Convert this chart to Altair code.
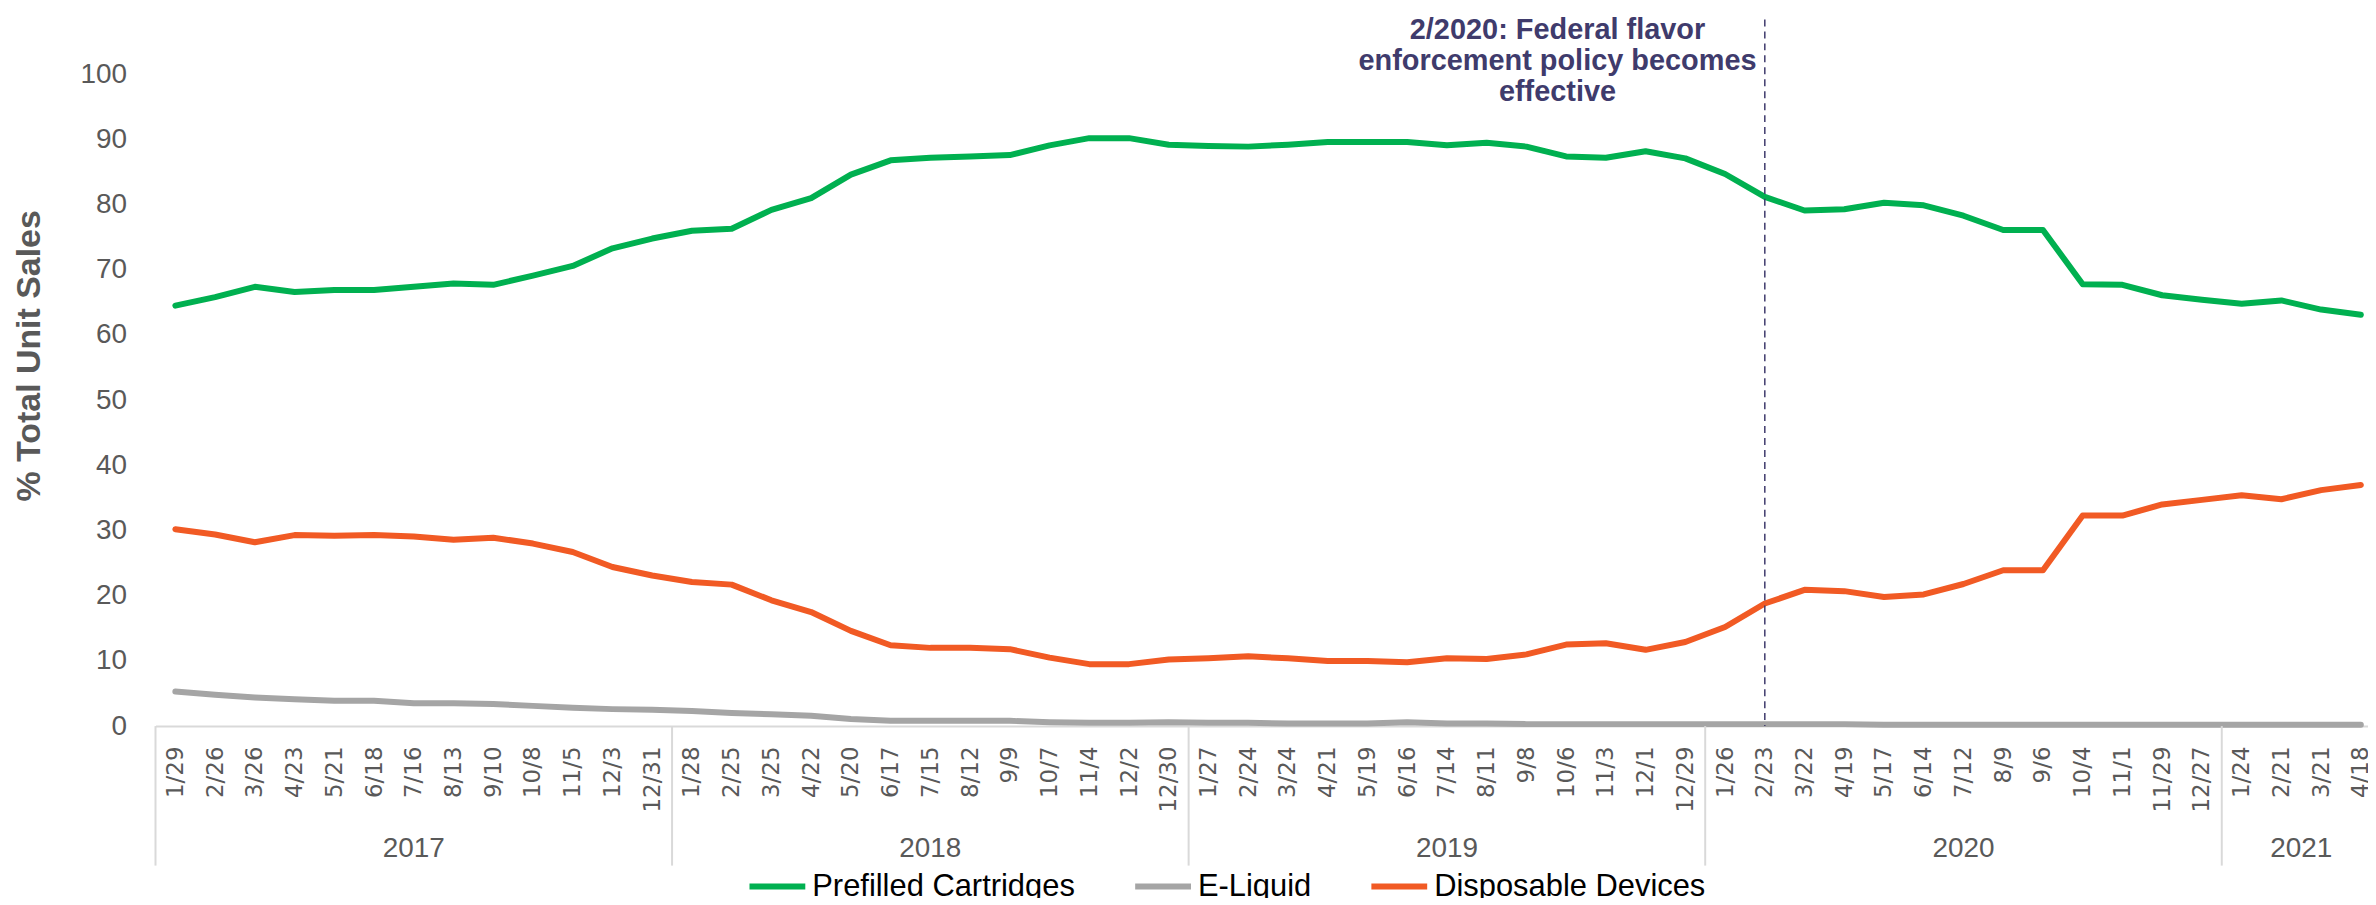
import altair as alt
import pandas as pd

# ---------------- data ----------------
dates = ["1/29", "2/26", "3/26", "4/23", "5/21", "6/18", "7/16", "8/13", "9/10", "10/8", "11/5", "12/3", "12/31",
         "1/28", "2/25", "3/25", "4/22", "5/20", "6/17", "7/15", "8/12", "9/9", "10/7", "11/4", "12/2", "12/30",
         "1/27", "2/24", "3/24", "4/21", "5/19", "6/16", "7/14", "8/11", "9/8", "10/6", "11/3", "12/1", "12/29",
         "1/26", "2/23", "3/22", "4/19", "5/17", "6/14", "7/12", "8/9", "9/6", "10/4", "11/1", "11/29", "12/27",
         "1/24", "2/21", "3/21", "4/18"]

year_names = ["2017", "2018", "2019", "2020", "2021"]
year_counts = [13, 13, 13, 13, 4]

prefilled = [64.5, 65.8, 67.4, 66.6, 66.9, 66.9, 67.4, 67.9, 67.7, 69.1, 70.6, 73.3, 74.8,
             76.0, 76.3, 79.2, 81.0, 84.6, 86.8, 87.2, 87.4, 87.6, 89.1, 90.2, 90.2, 89.2,
             89.0, 88.9, 89.2, 89.6, 89.6, 89.6, 89.1, 89.5, 88.9, 87.4, 87.2, 88.2, 87.1,
             84.7, 81.2, 79.1, 79.3, 80.3, 79.9, 78.3, 76.1, 76.1, 67.8, 67.7, 66.1, 65.4,
             64.8, 65.3, 63.9, 63.1]

eliquid = [5.3, 4.8, 4.4, 4.1, 3.9, 3.9, 3.5, 3.5, 3.4, 3.1, 2.8, 2.6, 2.5,
           2.3, 2.0, 1.8, 1.6, 1.1, 0.8, 0.8, 0.8, 0.8, 0.6, 0.5, 0.5, 0.6,
           0.5, 0.5, 0.4, 0.4, 0.4, 0.6, 0.4, 0.4, 0.3, 0.3, 0.3, 0.3, 0.3,
           0.3, 0.3, 0.3, 0.3, 0.2, 0.2, 0.2, 0.2, 0.2, 0.2, 0.2, 0.2, 0.2,
           0.2, 0.2, 0.2, 0.2]

disposable = [30.2, 29.4, 28.2, 29.3, 29.2, 29.3, 29.1, 28.6, 28.9, 28.0, 26.7, 24.4, 23.1,
              22.1, 21.7, 19.3, 17.5, 14.6, 12.4, 12.0, 12.0, 11.8, 10.5, 9.5, 9.5, 10.2,
              10.4, 10.7, 10.4, 10.0, 10.0, 9.8, 10.4, 10.3, 11.0, 12.5, 12.7, 11.7, 12.9,
              15.2, 18.8, 20.9, 20.7, 19.8, 20.2, 21.8, 23.9, 23.9, 32.3, 32.3, 34.0, 34.7,
              35.4, 34.8, 36.2, 37.0]

series_names = ["Prefilled Cartridges", "E-Liquid", "Disposable Devices"]
series_colors = ["#00B050", "#A5A5A5", "#F15A24"]

event_date = "2/23"
event_year = "2020"
event_text = "2/2020: Federal flavor\nenforcement policy becomes\neffective"

# ---------------- tables ----------------
rows = []
for name, vals in zip(series_names, [prefilled, eliquid, disposable]):
    for i, v in enumerate(vals):
        rows.append({"i": i, "date": dates[i], "series": name, "value": v})
df = pd.DataFrame(rows)

starts = []
s = 0
for c in year_counts:
    starts.append(s)
    s += c
df_bounds = pd.DataFrame({"b": [st - 0.5 for st in starts]})
df_years = pd.DataFrame({"year": year_names,
                         "c": [st + (c - 1) / 2 for st, c in zip(starts, year_counts)]})

ev_start = starts[year_names.index(event_year)]
ev_idx = ev_start + dates[ev_start:].index(event_date)
df_event = pd.DataFrame({"i": [ev_idx], "label": [event_text]})

# ---------------- chart ----------------
W, H = 2220, 654
xscale = alt.Scale(domain=[-0.5, 55.18], nice=False, zero=False)
label_expr = "[" + ",".join("'" + d + "'" for d in dates) + "][datum.value]"
grey = "#595959"
ann_color = "#3F3B6C"

lines = alt.Chart(df).mark_line(strokeWidth=6, strokeCap="round", strokeJoin="round").encode(
    x=alt.X("i:Q", scale=xscale,
            axis=alt.Axis(values=list(range(len(dates))), labelExpr=label_expr, labelAngle=-90,
                          labelAlign="right", labelBaseline="middle", labelFont="DejaVu Sans",
                          labelFontSize=23, labelColor=grey, labelPadding=20, ticks=False, tickSize=0,
                          grid=False, domainColor="#D9D9D9", domainWidth=2, title=None,
                          labelOverlap=False, labelFlush=False, labelBound=False)),
    y=alt.Y("value:Q", scale=alt.Scale(domain=[0, 100], nice=False, zero=True),
            axis=alt.Axis(values=list(range(0, 101, 10)), domain=False, ticks=False, tickSize=0,
                          grid=False, labelPadding=29, labelFont="Liberation Sans", labelFontSize=28,
                          labelColor=grey, title="% Total Unit Sales", titleFont="Liberation Sans",
                          titleFontSize=34, titleFontWeight="bold", titleColor=grey, titleAngle=270,
                          titleX=-126, titleY=282, titleAlign="center", titleBaseline="middle")),
    color=alt.Color("series:N", sort=series_names,
                    scale=alt.Scale(domain=series_names, range=series_colors),
                    legend=alt.Legend(orient="none", legendX=593, legendY=784, direction="horizontal",
                                      title=None, symbolType="stroke", symbolSize=3136,
                                      symbolStrokeWidth=6, labelFont="Liberation Sans",
                                      labelFontSize=31, labelColor="#000000", columnPadding=48,
                                      labelOffset=4, labelLimit=0)),
    detail="series:N",
)

year_rules = alt.Chart(df_bounds).mark_rule(color="#D9D9D9", strokeWidth=2).encode(
    x=alt.X("b:Q", scale=xscale),
    y=alt.value(H), y2=alt.value(H + 140))

year_text = alt.Chart(df_years).mark_text(font="Liberation Sans", fontSize=28, color=grey,
                                          baseline="middle", align="center").encode(
    x=alt.X("c:Q", scale=xscale),
    y=alt.value(H + 123), text="year:N")

ev_rule = alt.Chart(df_event).mark_rule(color=ann_color, strokeWidth=1.5, strokeDash=[7, 5]).encode(
    x=alt.X("i:Q", scale=xscale),
    y=alt.value(-55), y2=alt.value(H))

ev_text = alt.Chart(df_event).mark_text(font="Liberation Sans", fontWeight="bold", fontSize=29,
                                        color=ann_color, align="center", baseline="alphabetic",
                                        lineBreak="\n", lineHeight=31, dx=-208).encode(
    x=alt.X("i:Q", scale=xscale),
    y=alt.value(-35), text="label:N")

chart = alt.layer(lines, year_rules, year_text, ev_rule, ev_text).properties(
    width=W, height=H,
    autosize=alt.AutoSizeParams(type="none"),
    padding={"left": 148, "top": 65, "right": 0, "bottom": 171},
).configure_view(stroke=None)

chart.save("out.html", embed_options={"renderer": "svg", "actions": False})
